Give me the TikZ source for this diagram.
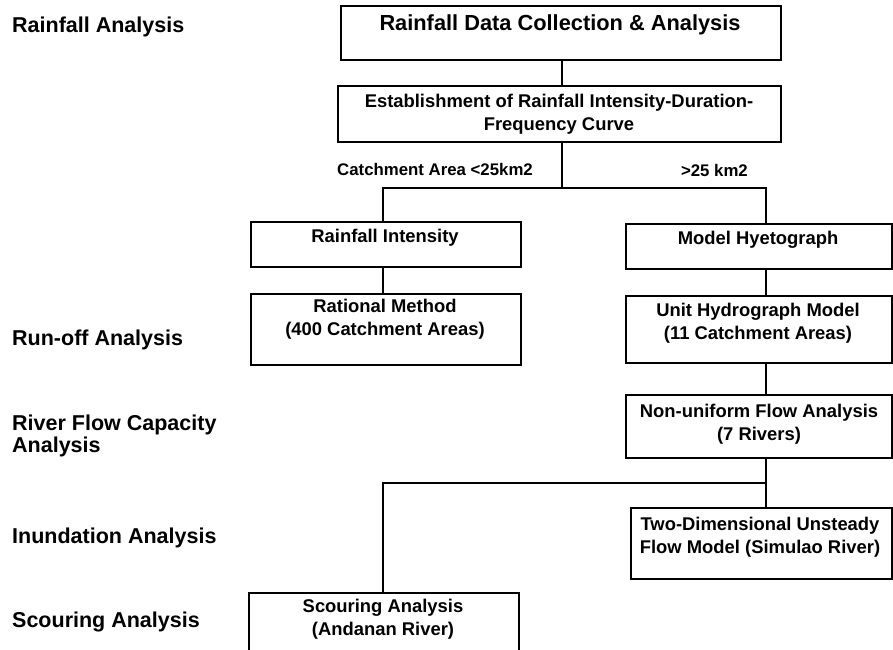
\documentclass[tikz,border=0pt]{standalone}
\usepackage{fontspec}
\setmainfont{Liberation Sans}
\begin{document}
\begin{tikzpicture}[x=1pt,y=-1pt,
  box/.style={draw=black, line width=2.4pt, inner sep=0pt, anchor=north west},
  conn/.style={draw=black, line width=2.6pt},
  big/.style={font=\bfseries\fontsize{21.8}{26}\selectfont, inner sep=0pt},
  txt/.style={font=\bfseries\fontsize{18.4}{22.5}\selectfont, align=center, inner sep=0pt},
  side/.style={font=\bfseries\fontsize{21.5}{22}\selectfont, anchor=west, inner sep=0pt, align=left},
  cond/.style={font=\bfseries\fontsize{16.8}{18}\selectfont, inner sep=0pt}]
\useasboundingbox (0,0) rectangle (893,649);
\clip (0,0) rectangle (893,649);
% boxes
\node[box, minimum width=440pt, minimum height=54pt] (b1) at (340,5) {};
\node[box, minimum width=443pt, minimum height=56pt] (b2) at (337,85) {};
\node[box, minimum width=270pt, minimum height=45pt] (b3) at (250,221) {};
\node[box, minimum width=266pt, minimum height=45pt] (b4) at (625,223) {};
\node[box, minimum width=270pt, minimum height=71pt] (b5) at (250,293) {};
\node[box, minimum width=266pt, minimum height=67pt] (b6) at (625,295) {};
\node[box, minimum width=266pt, minimum height=63pt] (b7) at (625,394) {};
\node[box, minimum width=261pt, minimum height=71pt] (b8) at (630,507) {};
\node[box, minimum width=270pt, minimum height=80pt] (b9) at (248,592) {};
% box texts
\node[big] (t1) at (560,25) {Rainfall Data Collection \& Analysis};
\node[txt] (t2) at (559,114) {Establishment of Rainfall Intensity-Duration-\\Frequency Curve};
\node[txt] (t3) at (385,238) {Rainfall Intensity};
\node[txt] (t4) at (758,240) {Model Hyetograph};
\node[txt] (t5) at (385,319) {Rational Method\\(400 Catchment Areas)};
\node[txt] (t6) at (758,323) {Unit Hydrograph Model\\(11 Catchment Areas)};
\node[txt] (t7) at (759,424) {Non-uniform Flow Analysis\\(7 Rivers)};
\node[txt] (t8) at (760,537) {Two-Dimensional Unsteady\\Flow Model (Simulao River)};
\node[txt] (t9) at (383,619) {Scouring Analysis\\(Andanan River)};
% condition labels
\node[cond, anchor=west] (c1) at (337,169) {Catchment Area <25km2};
\node[cond, anchor=east] (c2) at (748,170) {>25 km2};
% side labels
\node[side] (s1) at (12,27) {Rainfall Analysis};
\node[side] (s2) at (12,340) {Run-off Analysis};
\node[side] (s3) at (12,436) {River Flow Capacity\\Analysis};
\node[side] (s4) at (12,538) {Inundation Analysis};
\node[side] (s5) at (12,622) {Scouring Analysis};
% junctions
\coordinate (jc) at (562,188);
\coordinate (jl) at (383,188);
\coordinate (jr) at (766,188);
\coordinate (kl) at (383,483);
\coordinate (kr) at (766,483);
% connectors
\draw[conn] (b1.south -| jc) -- (b2.north -| jc);
\draw[conn] (b2.south -| jc) -- (jc);
\draw[conn] (b3.north -| jl) -- (jl) -- (jr) -- (b4.north -| jr);
\draw[conn] (b3.south -| jl) -- (b5.north -| jl);
\draw[conn] (b4.south -| jr) -- (b6.north -| jr);
\draw[conn] (b6.south -| jr) -- (b7.north -| jr);
\draw[conn] (b7.south -| kr) -- (b8.north -| kr);
\draw[conn] (kr) -- (kl) -- (b9.north -| kl);
\end{tikzpicture}
\end{document}
